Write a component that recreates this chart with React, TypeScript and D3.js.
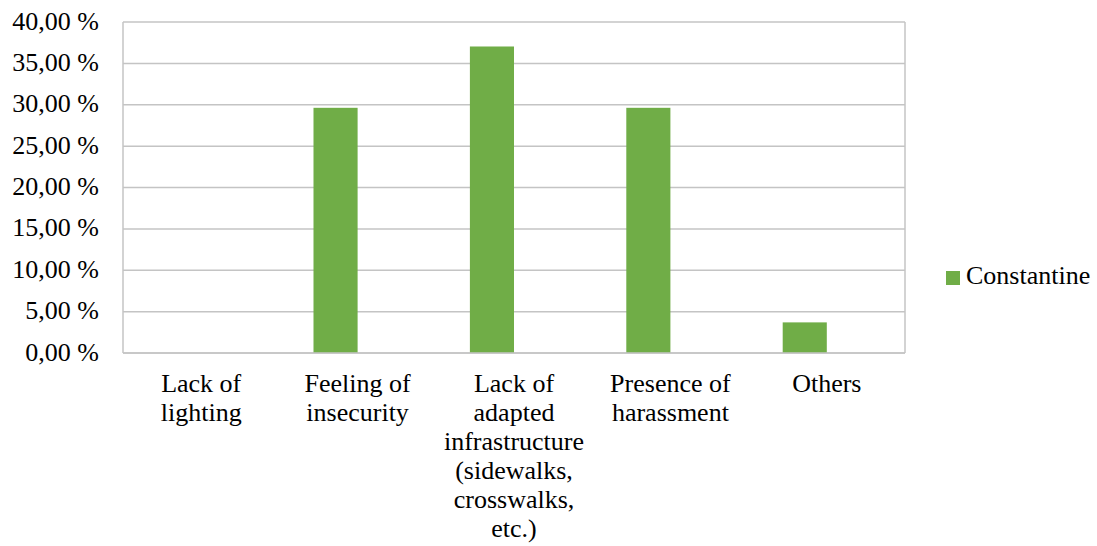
import React from "react";
import * as d3 from "d3";

const categories: string[][] = [
  ["Lack of", "lighting"],
  ["Feeling of", "insecurity"],
  ["Lack of", "adapted", "infrastructure", "(sidewalks,", "crosswalks,", "etc.)"],
  ["Presence of", "harassment"],
  ["Others"],
];
const values: number[] = [0, 29.63, 37.04, 29.63, 3.7];
const yTicks: number[] = [0, 5, 10, 15, 20, 25, 30, 35, 40];
const seriesName = "Constantine";

const W = 1097;
const H = 546;
const left = 123;
const right = 905;
const top = 22;
const bottom = 353;
const green = "#70AD47";
const gridColor = "#c4c4c4";
const font = "'Liberation Serif', Tinos, 'Times New Roman', Times, 'DejaVu Serif', 'Noto Serif', serif";

export default function App() {
  const x = d3.scaleBand<number>().domain(d3.range(categories.length)).range([left, right]).padding(0);
  const y = d3.scaleLinear().domain([0, 40]).range([bottom, top]);
  const barW = x.bandwidth() * 0.282;
  const fmt = (v: number) => v.toFixed(2).replace(".", ",") + " %";

  return (
    <svg width={W} height={H} style={{ position: "absolute", left: 0, top: 0, background: "#fff", fontFamily: font }}>
      {yTicks.map((t) => (
        <g key={t}>
          <line x1={left} x2={right} y1={y(t)} y2={y(t)} stroke={gridColor} strokeWidth={1.5} />
          <text x={99} y={y(t) + 7.5} textAnchor="end" fontSize={26} fill="#000" style={{ fontFamily: font }}>
            {fmt(t)}
          </text>
        </g>
      ))}
      <line x1={left} x2={left} y1={top} y2={bottom} stroke={gridColor} strokeWidth={1.5} />
      <line x1={right} x2={right} y1={top} y2={bottom} stroke={gridColor} strokeWidth={1.5} />
      {values.map((v, i) =>
        v > 0 ? (
          <rect
            key={i}
            x={(x(i) as number) + x.bandwidth() / 2 - barW}
            y={y(v)}
            width={barW}
            height={y(0) - y(v)}
            fill={green}
          />
        ) : null
      )}
      <line x1={left} x2={right} y1={bottom} y2={bottom} stroke={gridColor} strokeWidth={1.5} />
      {categories.map((lines, i) => (
        <text key={i} x={(x(i) as number) + x.bandwidth() / 2} textAnchor="middle" fontSize={26} fill="#000" style={{ fontFamily: font }}>
          {lines.map((l, j) => (
            <tspan key={j} x={(x(i) as number) + x.bandwidth() / 2} y={392 + j * 29}>
              {l}
            </tspan>
          ))}
        </text>
      ))}
      <rect x={946} y={271} width={14} height={14} fill={green} />
      <text x={966} y={284} fontSize={26} fill="#000" style={{ fontFamily: font }}>
        {seriesName}
      </text>
    </svg>
  );
}
